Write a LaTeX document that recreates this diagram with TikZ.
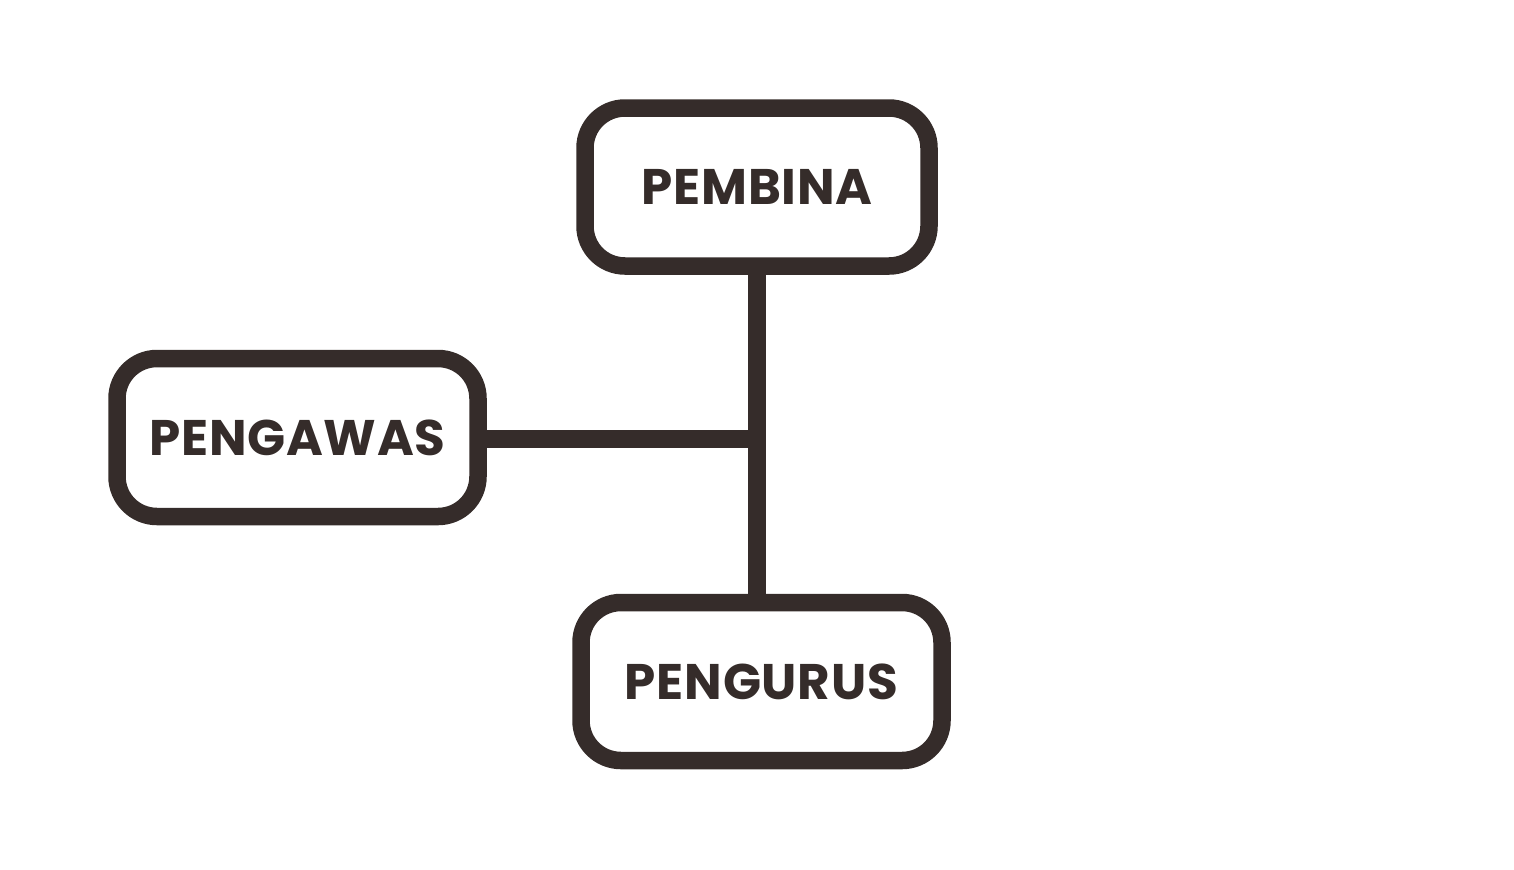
\documentclass[tikz,border=0pt]{standalone}
\usepackage{fontspec}
\setmainfont{Poppins}[UprightFont=* Bold,BoldFont=* Bold]
\definecolor{ink}{RGB}{53,44,42}
\begin{document}
\begin{tikzpicture}[x=0.5pt,y=-0.5pt,
  box/.style={draw=ink,fill=white,line width=8.75pt,rounded corners=20pt,
    minimum width=#1,minimum height=79pt,inner sep=0pt,
    font=\fontsize{25}{29}\selectfont\bfseries\addfontfeatures{LetterSpace=1.5},text=ink},
  conn/.style={draw=ink,line width=9pt}]
\useasboundingbox (0,0) rectangle (1514,869);
\node[box=172pt] (pembina) at (757,187) {PEMBINA};
\node[box=180.5pt] (pengawas) at (297.5,437.5) {PENGAWAS};
\node[box=180.5pt] (pengurus) at (761.5,681.5) {PENGURUS};
\coordinate (j) at (757,438.5);
\draw[conn] (pembina.south -| j) -- (pengurus.north -| j);
\draw[conn] (pengawas.east |- j) -- (j);
\end{tikzpicture}
\end{document}
